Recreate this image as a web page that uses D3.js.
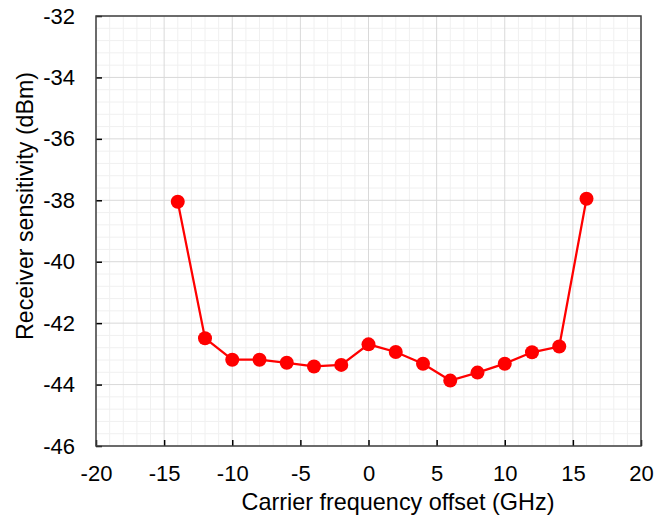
<!DOCTYPE html>
<html>
<head>
<meta charset="utf-8">
<script src="https://cdn.jsdelivr.net/npm/d3@7"></script>
<style>
  body { margin: 0; background: #fff; }
  svg text { font-family: "Liberation Sans", Arial, sans-serif; fill: #000; }
</style>
</head>
<body>
<div id="chart"></div>
<script>
const offsets = [-14, -12, -10, -8, -6, -4, -2, 0, 2, 4, 6, 8, 10, 12, 14, 16];
const sensitivity = [-38.05, -42.49, -43.19, -43.19, -43.29, -43.41, -43.36, -42.69,
  -42.94, -43.32, -43.87, -43.61, -43.32, -42.95, -42.76, -37.95];
const xTicks = [-20, -15, -10, -5, 0, 5, 10, 15, 20];
const yTicks = [-46, -44, -42, -40, -38, -36, -34, -32];

const width = 668, height = 520;
const margin = { top: 16, right: 27, bottom: 74, left: 96 };

const svg = d3.select('#chart').append('svg')
  .attr('width', width).attr('height', height);

const x = d3.scaleLinear().domain([-20, 20]).range([margin.left, width - margin.right]);
const y = d3.scaleLinear().domain([-46, -32]).range([height - margin.bottom, margin.top]);

// minor grid
const minorX = d3.range(-20, 20.001, 1).filter(v => v % 5 !== 0);
const minorY = d3.range(-46, -31.99, 0.4).filter(v => Math.abs(v / 2 - Math.round(v / 2)) > 0.01);

svg.append('g').selectAll('line').data(minorX).join('line')
  .attr('x1', d => x(d)).attr('x2', d => x(d))
  .attr('y1', y(-46)).attr('y2', y(-32))
  .attr('stroke', '#f0f0f0').attr('stroke-width', 1);
svg.append('g').selectAll('line').data(minorY).join('line')
  .attr('y1', d => y(d)).attr('y2', d => y(d))
  .attr('x1', x(-20)).attr('x2', x(20))
  .attr('stroke', '#f0f0f0').attr('stroke-width', 1);

// major grid
svg.append('g').selectAll('line').data(xTicks).join('line')
  .attr('x1', d => x(d)).attr('x2', d => x(d))
  .attr('y1', y(-46)).attr('y2', y(-32))
  .attr('stroke', '#d9d9d9').attr('stroke-width', 1);
svg.append('g').selectAll('line').data(yTicks).join('line')
  .attr('y1', d => y(d)).attr('y2', d => y(d))
  .attr('x1', x(-20)).attr('x2', x(20))
  .attr('stroke', '#d9d9d9').attr('stroke-width', 1);

// axes with inward ticks, plain hyphen for negatives
const fmt = d => String(d);
const xAxis = svg.append('g')
  .attr('transform', `translate(0,${y(-46)})`)
  .call(d3.axisBottom(x).tickValues(xTicks).tickFormat(fmt).tickSizeInner(-6).tickSizeOuter(0).tickPadding(19));
const yAxis = svg.append('g')
  .attr('transform', `translate(${x(-20)},0)`)
  .call(d3.axisLeft(y).tickValues(yTicks).tickFormat(fmt).tickSizeInner(-6).tickSizeOuter(0).tickPadding(21));

[xAxis, yAxis].forEach(g => {
  g.select('.domain').remove();
  g.selectAll('.tick line').attr('stroke', '#000').attr('stroke-width', 1.5);
  g.selectAll('.tick text').attr('font-size', 22).attr('font-family', '"Liberation Sans", Arial, sans-serif');
});

// frame
svg.append('rect')
  .attr('x', x(-20)).attr('y', y(-32))
  .attr('width', x(20) - x(-20)).attr('height', y(-46) - y(-32))
  .attr('fill', 'none').attr('stroke', '#404040').attr('stroke-width', 1.5);

// data
const data = offsets.map((o, i) => ({ o, v: sensitivity[i] }));
const line = d3.line().x(d => x(d.o)).y(d => y(d.v));

svg.append('path').datum(data)
  .attr('fill', 'none')
  .attr('stroke', '#ff0000')
  .attr('stroke-width', 2.25)
  .attr('d', line);

svg.append('g').selectAll('circle').data(data).join('circle')
  .attr('cx', d => x(d.o)).attr('cy', d => y(d.v))
  .attr('r', 7).attr('fill', '#ff0000');

// titles
svg.append('text')
  .attr('x', 398).attr('y', 510)
  .attr('text-anchor', 'middle')
  .attr('font-size', 23.4)
  .text('Carrier frequency offset (GHz)');

svg.append('text')
  .attr('transform', 'translate(33,206) rotate(-90)')
  .attr('text-anchor', 'middle')
  .attr('font-size', 23.2)
  .text('Receiver sensitivity (dBm)');
</script>
</body>
</html>
